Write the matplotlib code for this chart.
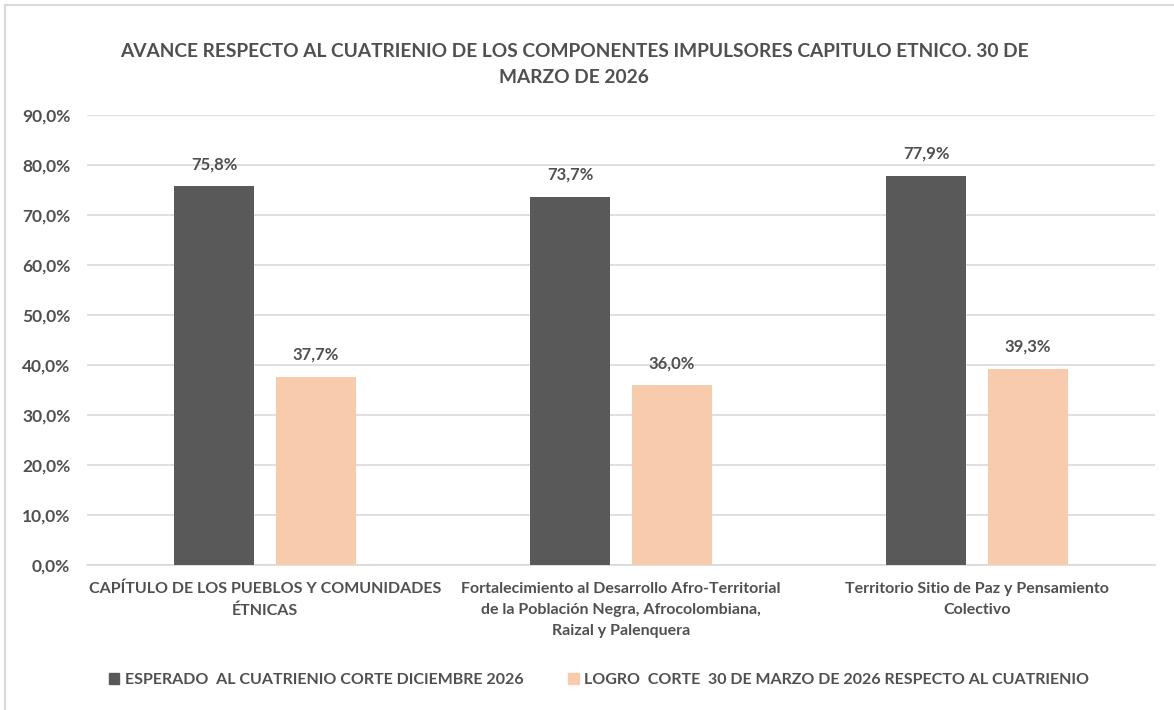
import matplotlib.pyplot as plt
import numpy as np
from matplotlib.patches import Patch

categorias = ['CAPÍTULO DE LOS PUEBLOS Y COMUNIDADES\nÉTNICAS',
              'Fortalecimiento al Desarrollo Afro-Territorial\nde la Población Negra, Afrocolombiana,\nRaizal y Palenquera',
              'Territorio Sitio de Paz y Pensamiento\nColectivo']
esperado = [0.758, 0.737, 0.779]
logro = [0.377, 0.360, 0.393]
serie_nombres = ['ESPERADO  AL CUATRIENIO CORTE DICIEMBRE 2026',
                 'LOGRO  CORTE  30 DE MARZO DE 2026 RESPECTO AL CUATRIENIO']
titulo = 'AVANCE RESPECTO AL CUATRIENIO DE LOS COMPONENTES IMPULSORES CAPITULO ETNICO. 30 DE\nMARZO DE 2026'

gris = '#595959'
durazno = '#f8cbad'
texto = '#505050'
fuente = 'Lato'
plt.rcParams['font.family'] = fuente
plt.rcParams['font.weight'] = 'bold'

fig = plt.figure(figsize=(11.74, 7.1), dpi=100)
ax = fig.add_axes([87/1174, 1 - 565/710, (1155 - 87)/1174, 450/710])

x = np.arange(len(categorias))
ancho = 0.225
desp = 0.1425
b1 = ax.bar(x - desp, esperado, ancho, color=gris, zorder=3)
b2 = ax.bar(x + desp, logro, ancho, color=durazno, zorder=3)

for barras in (b1, b2):
    for b in barras:
        v = b.get_height()
        ax.annotate(f'{v*100:.1f}%'.replace('.', ','), (b.get_x() + b.get_width()/2, v),
                    xytext=(0, 10), textcoords='offset points', ha='center', va='bottom',
                    fontsize=12, family=fuente, fontweight='bold', color=texto)

ax.set_xlim(-0.5, 2.5)
ax.set_ylim(0, 0.9)
yt = np.arange(0, 0.91, 0.1)
ax.set_yticks(yt)
ax.set_yticklabels([f'{t*100:.1f}%'.replace('.', ',') for t in yt],
                   fontsize=12.5, family=fuente, fontweight='bold', color=texto)
ax.set_xticks(x)
ax.set_xticklabels(categorias, fontsize=11.5, family=fuente, fontweight='bold', color=texto,
                   linespacing=1.65)
ax.tick_params(axis='y', length=0, pad=12)
ax.tick_params(axis='x', length=0, pad=12)
ax.grid(axis='y', color='#d9d9d9', linewidth=1.2, zorder=0)
for s in ['top', 'right', 'left']:
    ax.spines[s].set_visible(False)
ax.spines['bottom'].set_color('#d9d9d9')
ax.spines['bottom'].set_linewidth(1.2)

fig.text(574/1174, 1 - 64.5/710, titulo, ha='center', va='center', fontsize=13.8,
         family=fuente, fontweight='bold', color=texto, linespacing=1.6)

handles = [Patch(color=gris), Patch(color=durazno)]
fig.legend(handles, serie_nombres, loc='center', bbox_to_anchor=(599/1174, 1 - 680/710),
           ncol=2, frameon=False, handlelength=0.65, handleheight=0.65,
           handletextpad=0.35, columnspacing=2.8,
           prop={'family': fuente, 'weight': 'bold', 'size': 11.5})
for t in fig.legends[0].get_texts():
    t.set_color(texto)

# borde del grafico
fig.add_artist(plt.Line2D([5/1174, 5/1174], [0, 1 - 5/710], color='#d9d9d9', lw=1.5))
fig.add_artist(plt.Line2D([5/1174, 1], [1 - 5/710, 1 - 5/710], color='#d9d9d9', lw=1.5))

fig.savefig('out.png', dpi=100)
